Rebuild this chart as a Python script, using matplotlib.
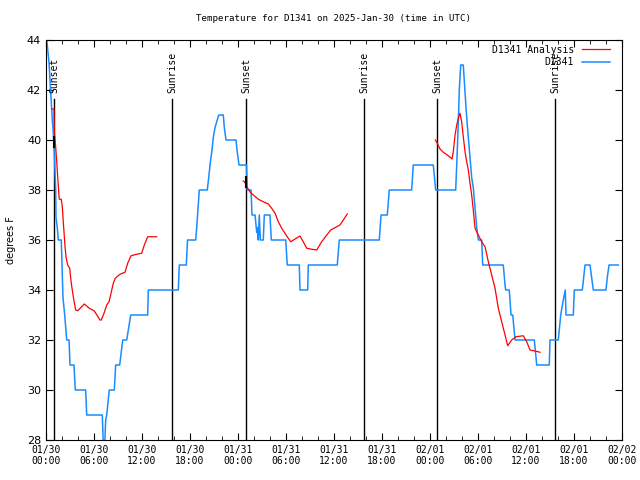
import numpy as np
import matplotlib
matplotlib.use("Agg")
import matplotlib.pyplot as plt

nan = np.nan

# hours since 2025-01-30 00:00 UTC
obs_t = [0.09, 0.38, 0.5, 0.66, 0.79, 0.91, 1.04, 1.21, 1.25, 1.41, 1.54, 1.91, 2.04, 2.12, 2.34,
         2.59, 2.88, 3.0, 3.5, 3.66, 4.96, 5.09, 7.04, 7.16, 7.34, 7.46, 7.59, 7.75, 7.91, 8.54,
         8.71, 9.21, 9.59, 10.09, 10.59, 12.71, 12.79, 16.54, 16.66, 17.54, 17.69, 18.71, 18.84,
         19.16, 20.16, 20.34, 20.54, 20.75, 20.91, 21.13, 21.59, 22.16, 22.29, 22.5, 23.75, 23.91,
         24.13, 25.06, 25.16, 25.63, 25.75, 26.13, 26.34, 26.44, 26.54, 26.66, 26.79, 27.16, 27.29,
         28.0, 28.16, 29.96, 30.16, 31.66, 31.75, 32.71, 32.79, 36.41, 36.66, 41.66, 41.88, 42.66,
         42.91, 45.71, 45.91, 48.41, 48.71, 51.21, 51.34, 51.54, 51.66, 51.84, 52.16, 52.34, 52.5,
         52.66, 52.84, 53.0, 53.21, 53.41, 53.63, 53.84, 54.04, 54.46, 54.59, 57.16, 57.38, 57.46,
         57.91, 58.13, 58.34, 58.63, 61.04, 61.34, 62.91, 63.0, 64.04, 64.34, 64.5, 64.66, 64.91,
         65.0, 65.91, 66.04, 67.04, 67.21, 67.38, 68.0, 68.21, 68.41, 70.0, 70.16, 70.38, 71.54]
obs_v = [44, 43.1, 42.4, 41.5, 40.8, 40.3, 39.5, 38, 36.9, 36.5, 36, 36, 34.5, 33.7, 33,
         32, 32, 31, 31, 30, 30, 29, 29, 27.8, 27.8, 28.8, 29, 29.5, 30, 30,
         31, 31, 32, 32, 33, 33, 34, 34, 35, 35, 36, 36, 36.5,
         38, 38, 38.5, 39.1, 39.6, 40.1, 40.5, 41, 41, 40.5, 40, 40, 39.5,
         39, 39, 38, 38, 37, 37, 36.3, 36.5, 36, 37, 36, 36, 37,
         37, 36, 36, 35, 35, 34, 34, 35, 35, 36, 36, 37, 37,
         38, 38, 39, 39, 38, 38, 39, 40.7, 42, 43, 43, 42.1, 41.3,
         40.6, 39.9, 39.3, 38.5, 38.1, 37.3, 36.5, 36, 36, 35, 35, 34.2, 34,
         34, 33, 33, 32, 32, 31, 31, 32, 32, 33, 33.3, 33.6, 34,
         33, 33, 34, 34, 34.5, 35, 35, 34.5, 34, 34, 34.5, 35, 35]

ana_t = [0.71, 1.0, 1.04, 1.21, 1.34, 1.46, 1.59, 1.66, 1.91, 2.04, 2.16, 2.38, 2.5, 2.71, 2.96,
         3.16, 3.41, 3.71, 3.96, 4.79, 5.41, 6.04, 6.75, 6.91, 7.25, 7.59, 7.88, 8.13, 8.41, 8.66,
         9.25, 9.88, 10.21, 10.63, 11.34, 11.96, 12.29, 12.71, 13.84, nan,
         24.66, 24.88, 25.09, 25.5, 25.91, 26.54, 27.16, 27.79, 28.21, 28.63, 29.04, 29.46, 30.09,
         30.59, 31.13, 31.75, 32.16, 32.59, 33.21, 33.84, 34.46, 35.0, 35.59, 36.34, 36.75, 37.16,
         37.66, nan,
         48.66, 48.91, 49.25, 49.66, 50.29, 50.75, 50.91, 51.13, 51.34, 51.54, 51.75, 51.96, 52.16,
         52.38, 52.59, 52.79, 53.0, 53.21, 53.41, 53.63, 54.04, 54.46, 54.88, 55.29, 55.71, 56.13,
         56.54, 56.96, 57.38, 57.71, 58.21, 58.75, 59.66, 60.09, 60.5, 61.13, 61.75]
ana_v = [41.24, 41.24, 40.33, 39.73, 39.13, 38.53, 37.93, 37.63, 37.63, 37.33, 36.73, 35.73, 35.33,
         35.0, 34.87, 34.27, 33.73, 33.2, 33.17, 33.44, 33.27, 33.16, 32.8, 32.8, 33.07, 33.4, 33.53,
         33.87, 34.27, 34.47, 34.63, 34.71, 35.07, 35.37, 35.43, 35.47, 35.8, 36.13, 36.13, nan,
         38.36, 38.3, 38.13, 37.93, 37.8, 37.63, 37.53, 37.44, 37.27, 37.07, 36.73, 36.47, 36.16,
         35.93, 36.04, 36.16, 35.93, 35.67, 35.63, 35.6, 35.93, 36.16, 36.4, 36.53, 36.6, 36.8,
         37.04, nan,
         40.0, 39.87, 39.64, 39.51, 39.37, 39.24, 39.53, 40.2, 40.6, 40.87, 41.07, 40.73, 40.13,
         39.53, 39.13, 38.8, 38.27, 37.8, 37.2, 36.47, 36.2, 35.93, 35.73, 35.13, 34.6, 34.07,
         33.27, 32.73, 32.2, 31.77, 32.0, 32.13, 32.17, 31.93, 31.6, 31.56, 31.51]

sun_t = [1.04, 15.79, 25.04, 39.79, 48.91, 63.66]
sun_lbl = ["Sunset", "Sunrise", "Sunset", "Sunrise", "Sunset", "Sunrise"]

mark_t = [1.0, 24.95]
mark_v = [39.9, 38.3]

xt = np.arange(0, 73, 6)
xt_lbl = ["01/30\n00:00", "01/30\n06:00", "01/30\n12:00", "01/30\n18:00",
          "01/31\n00:00", "01/31\n06:00", "01/31\n12:00", "01/31\n18:00",
          "02/01\n00:00", "02/01\n06:00", "02/01\n12:00", "02/01\n18:00",
          "02/02\n00:00"]

mono = "DejaVu Sans Mono"
blue = "#1a8cff"

fig = plt.figure(figsize=(6.4, 4.8), dpi=100)
ax = fig.add_axes([46/640, 40/480, 576/640, 400/480])

for t, l in zip(sun_t, sun_lbl):
    ax.plot([t, t], [28, 41.64], color="black", lw=1.0, zorder=1)
    ax.text(t + 0.05, 41.88, l, rotation=90, ha="center", va="bottom",
            fontsize=7, family=mono)

ax.plot(ana_t, ana_v, color="red", lw=0.9, zorder=3)
ax.plot(obs_t, obs_v, color=blue, lw=1.1, zorder=2)
ax.plot(mark_t, mark_v, ls="none", marker="|", ms=8, mew=1.5, color="black", zorder=4)

# legend, gnuplot style
ax.text(0.9167, 0.976, "D1341 Analysis", transform=ax.transAxes, ha="right", va="center",
        fontsize=7, family=mono)
ax.plot([0.930, 0.979], [0.977, 0.977], transform=ax.transAxes, color="red", lw=0.9)
ax.text(0.9167, 0.944, "D1341", transform=ax.transAxes, ha="right", va="center",
        fontsize=7, family=mono)
ax.plot([0.930, 0.979], [0.945, 0.945], transform=ax.transAxes, color=blue, lw=1.1)

ax.set_xlim(0, 72)
ax.set_ylim(28, 44)
ax.set_xticks(xt)
ax.set_xticklabels(xt_lbl, fontsize=7, family=mono)
ax.set_xticks(np.arange(0, 73, 2), minor=True)
ax.set_yticks(np.arange(28, 45, 2))
ax.tick_params(axis="y", labelsize=8)
ax.tick_params(which="both", direction="in", top=True, right=True)
ax.tick_params(which="major", length=5)
ax.tick_params(which="minor", length=3)
ax.set_ylabel("degrees F", fontsize=7, labelpad=8)
ax.set_title("Temperature for D1341 on 2025-Jan-30 (time in UTC)", fontsize=6.6,
             family=mono, pad=14)

fig.savefig("out.png", dpi=100)
